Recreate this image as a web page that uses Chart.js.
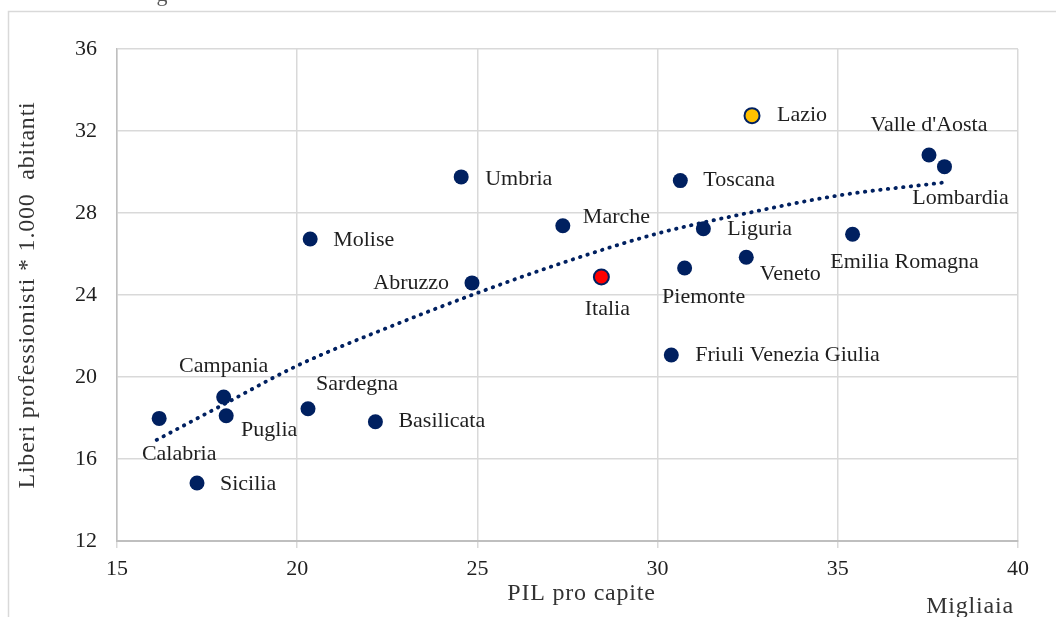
<!DOCTYPE html>
<html>
<head>
<meta charset="utf-8">
<script src="https://cdn.jsdelivr.net/npm/chart.js@4.4.1/dist/chart.umd.min.js"></script>
<style>
html,body{margin:0;padding:0;background:#fff;}
#wrap{position:relative;width:1056px;height:617px;overflow:hidden;}
canvas{display:block;}
</style>
</head>
<body>
<div id="wrap"><canvas id="c" width="1056" height="617"></canvas></div>
<script>
// ---- data ----
const regions = ["Lazio","Valle d'Aosta","Lombardia","Toscana","Marche","Liguria","Emilia Romagna","Veneto","Piemonte","Italia","Friuli Venezia Giulia","Umbria","Molise","Abruzzo","Campania","Puglia","Calabria","Sardegna","Basilicata","Sicilia"];
const pilProCapite = [32.62,37.53,37.96,30.63,27.37,31.27,35.41,32.46,30.75,28.44,30.38,24.55,20.36,24.85,17.96,18.03,16.17,20.30,22.17,17.22];
const liberiProfessionisti = [32.75,30.83,30.26,29.58,27.38,27.23,26.96,25.84,25.32,24.88,21.07,29.76,26.73,24.59,19.02,18.11,17.98,18.45,17.82,14.83];
const trendX = [16.1,18.0,20.0,22.5,25.0,27.5,30.0,32.5,35.0,37.9];
const trendY = [16.93,18.7,20.55,22.4,24.1,25.65,27.0,28.0,28.85,29.48];
const xTickValues = [15,20,25,30,35,40];
const yTickValues = [12,16,20,24,28,32,36];

// ---- presentation ----
const NAVY = '#002060';
const fillFor = {"Lazio":'#FFC000',"Italia":'#FF0000'};
const labelPlacement = {
  "Lazio":['left',25,0],"Valle d'Aosta":['center',0,-30],"Lombardia":['center',16,32],
  "Toscana":['left',23,0],"Marche":['left',20,-8],"Liguria":['left',24,0],
  "Emilia Romagna":['center',52,28],"Veneto":['center',44,17],"Piemonte":['center',19,29],
  "Italia":['center',6,32],"Friuli Venezia Giulia":['left',24,0],"Umbria":['left',24,2],
  "Molise":['left',23,1],"Abruzzo":['right',-23,0],"Campania":['center',0,-31],
  "Puglia":['center',43,14],"Calabria":['center',20,36],"Sardegna":['center',49,-25],
  "Basilicata":['left',23,0],"Sicilia":['left',23,1]
};
const FONT = '"Liberation Serif", "DejaVu Serif", serif';
const TEXT = '#1f1f1f';

const points = regions.map((r,i)=>({x:pilProCapite[i], y:liberiProfessionisti[i]}));
const trend = trendX.map((x,i)=>({x:x, y:trendY[i]}));

const decor = {
  id:'decor',
  beforeDraw(chart){
    const ctx = chart.ctx;
    ctx.save();
    ctx.strokeStyle = '#D9D9D9';
    ctx.lineWidth = 1.5;
    ctx.strokeRect(8.5, 11.5, 1200, 800);
    ctx.fillStyle = '#595959';
    ctx.font = '22px ' + FONT;
    ctx.textAlign = 'center';
    ctx.textBaseline = 'alphabetic';
    ctx.fillText('g', 162, 1);
    ctx.restore();
  },
  afterDatasetsDraw(chart){
    const ctx = chart.ctx;
    const xs = chart.scales.x, ys = chart.scales.y;
    const ca = chart.chartArea;
    ctx.save();
    ctx.fillStyle = TEXT;
    ctx.font = '22px ' + FONT;
    ctx.textBaseline = 'middle';
    regions.forEach((r,i)=>{
      const px = xs.getPixelForValue(pilProCapite[i]);
      const py = ys.getPixelForValue(liberiProfessionisti[i]);
      const p = labelPlacement[r];
      ctx.textAlign = p[0];
      ctx.fillText(r, px + p[1], py + p[2]);
    });
    // axis titles
    ctx.fillStyle = '#333333';
    ctx.font = '24px ' + FONT;
    if ('letterSpacing' in ctx) ctx.letterSpacing = '0.8px';
    ctx.textAlign = 'center';
    ctx.fillText('PIL pro capite', (ca.left+ca.right)/2 + 14, 594);
    ctx.fillText('Migliaia', 970, 607);
    ctx.translate(28, (ca.top+ca.bottom)/2);
    ctx.rotate(-Math.PI/2);
    ctx.fillText('Liberi professionisti * 1.000  abitanti', 0, 0);
    ctx.restore();
  }
};

new Chart(document.getElementById('c'), {
  type:'scatter',
  data:{
    datasets:[
      {
        label:'Regioni',
        data:points,
        pointRadius:7.5,
        pointHoverRadius:7.5,
        pointBackgroundColor:regions.map(r=>fillFor[r]||NAVY),
        pointBorderColor:NAVY,
        pointBorderWidth:regions.map(r=>fillFor[r]?2:0),
        showLine:false
      },
      {
        label:'Tendenza',
        data:trend,
        showLine:true,
        pointRadius:0,
        borderColor:NAVY,
        borderWidth:3.8,
        borderCapStyle:'round',
        borderDash:[0.5,7.2],
        tension:0.4,
        cubicInterpolationMode:'monotone',
        fill:false
      }
    ]
  },
  options:{
    responsive:false,
    animation:false,
    events:[],
    layout:{padding:{left:0,top:49,right:38,bottom:0}},
    plugins:{legend:{display:false},tooltip:{enabled:false},title:{display:false}},
    scales:{
      x:{
        type:'linear',min:15,max:40,
        afterBuildTicks(s){ s.ticks = xTickValues.map(v=>({value:v})); },
        afterFit(s){ s.height = 617-541; },
        grid:{color:'#D9D9D9',lineWidth:1.5,tickLength:7,drawTicks:true,tickColor:'#D9D9D9'},
        border:{color:'#BFBFBF',width:2},
        ticks:{color:TEXT,font:{family:FONT,size:22},padding:8,maxRotation:0}
      },
      y:{
        type:'linear',min:12,max:36,
        afterBuildTicks(s){ s.ticks = yTickValues.map(v=>({value:v})); },
        afterFit(s){ s.width = 117; },
        grid:{color:'#D9D9D9',lineWidth:1.5,drawTicks:false},
        border:{color:'#BFBFBF',width:1.5},
        ticks:{color:TEXT,font:{family:FONT,size:22},padding:20}
      }
    }
  },
  plugins:[decor]
});
</script>
</body>
</html>
